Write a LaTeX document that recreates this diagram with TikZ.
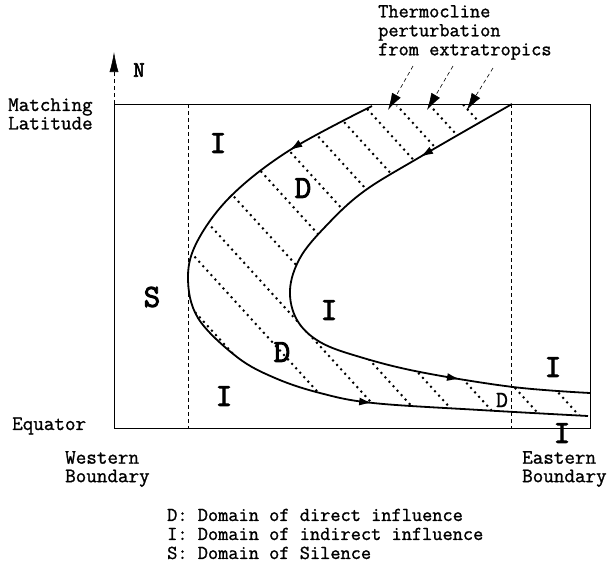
\documentclass[tikz,border=0pt]{standalone}
\usepackage{fontspec}
\newfontfamily\labmono[FakeBold=1.2]{Latin Modern Mono}
\newfontfamily\heavymono[FakeBold=3]{Latin Modern Mono}
\usetikzlibrary{arrows.meta,decorations.markings}
\begin{document}
\begin{tikzpicture}[x=1pt,y=-1pt,
  lbl/.style={font=\labmono\fontsize{20.5}{18.5}\selectfont, inner sep=0pt, align=left, anchor=west},
  sml/.style={font=\labmono\fontsize{19.8}{19}\selectfont, inner sep=0pt, align=left, anchor=west},
  big/.style={font=\heavymono\fontsize{32}{32}\selectfont, inner sep=0pt},
  curveline/.style={line width=1.8pt},
  bndline/.style={line width=0.6pt, dash pattern=on 4pt off 3pt},
  hatchline/.style={line width=2pt, dash pattern=on 2pt off 4pt},
  boxline/.style={line width=0.8pt},
  ptr/.style={line width=0.6pt, dash pattern=on 4pt off 3pt, -{Latex[length=17pt,width=10pt]}}]
\useasboundingbox (0,0) rectangle (611,566);

% frame
\coordinate (tl) at (114,104);
\coordinate (br) at (590,428);
\draw[boxline] (tl) rectangle (br);
\coordinate (wt) at (188,104); \coordinate (wb) at (188,428);
\coordinate (et) at (511,104); \coordinate (eb) at (511,428);
\draw[bndline] (wt) -- (wb);
\draw[bndline] (et) -- (eb);

% north arrow
\coordinate (ntip) at (114,52);
\draw[bndline,-{Latex[length=20pt,width=9pt]}] (tl) -- (ntip);
\node[font=\heavymono\fontsize{22}{22}\selectfont, inner sep=0pt] (n) at (139,70) {N};

% hatching
\begin{scope}
\clip plot[smooth,tension=0.6] coordinates {(372,106) (290,150) (232,195) (198,240) (188,277) (198,318) (237,357) (275,378) (320,393) (373,403) (480,410) (588,416)}
  -- plot[smooth,tension=0.6] coordinates {(590,393) (513,387) (420,372) (360,357) (320,342) (297,320) (290,290) (300,258) (325,227) (363,192) (420,157) (512,104)}
  -- cycle;
\foreach \u/\ya/\yb in {-89/290/400, -39/230/410, 5/200/410, 55/170/300, 105/140/260, 152/130/230, 194/110/210, 233/100/190, 268/100/180, 301/100/170, 334/100/160, 368/100/140,
  42/350/425, 79/355/425, 118/365/425, 162/370/425, 201/375/425}
  \draw[hatchline] ({\u+0.91*\ya},\ya) -- ({\u+0.91*\yb},\yb);
\end{scope}

% characteristic curves
\draw[curveline, postaction={decorate}, decoration={markings,
   mark=at position 0.13 with {\arrow{Latex[length=13pt,width=8pt]}},
   mark=at position 0.70 with {\arrow{Latex[length=13pt,width=8pt]}}}]
  plot[smooth,tension=0.6] coordinates {(372,106) (290,150) (232,195) (198,240) (188,277) (198,318) (237,357) (275,378) (320,393) (373,403) (480,410) (588,416)};
\draw[curveline, postaction={decorate}, decoration={markings,
   mark=at position 0.166 with {\arrow{Latex[length=13pt,width=8pt]}},
   mark=at position 0.795 with {\arrow{Latex[length=13pt,width=8pt]}}}]
  plot[smooth,tension=0.6] coordinates {(512,104) (420,157) (363,192) (325,227) (300,258) (290,290) (297,320) (320,342) (360,357) (420,372) (513,387) (590,393)};

% thermocline perturbation
\node[sml, anchor=north west] (thermo) at (378,5) {Thermocline\\perturbation\\from extratropics};
\coordinate (ta1) at (413,66); \coordinate (ha1) at (388,110);
\coordinate (ta2) at (453,66); \coordinate (ha2) at (427,110);
\coordinate (ta3) at (493,68); \coordinate (ha3) at (467,110);
\draw[ptr] (ta1) -- (ha1);
\draw[ptr] (ta2) -- (ha2);
\draw[ptr] (ta3) -- (ha3);

% labels
\node[lbl] (match) at (8,114) {Matching\\Latitude};
\node[lbl] (equator) at (12,426) {Equator};
\node[lbl] (west) at (65,469) {Western\\Boundary};
\node[lbl] (east) at (522,469) {Eastern\\Boundary};
\node[sml] (legend) at (167,534) {D: Domain of direct influence\\I: Domain of indirect influence\\S: Domain of Silence};

% domain letters
\node[big] (i1) at (218,143) {I};
\node[big] (d1) at (303,188) {D};
\node[big] (s1) at (152,297) {S};
\node[big] (i2) at (329,310) {I};
\node[big] (d2) at (282,352) {D};
\node[big] (i3) at (224,396) {I};
\node[big] (i4) at (553,367) {I};
\node[font=\labmono\fontsize{23}{23}\selectfont, inner sep=0pt] (d3) at (502,400) {D};
\node[big] (i5) at (562,433) {I};
\end{tikzpicture}
\end{document}
